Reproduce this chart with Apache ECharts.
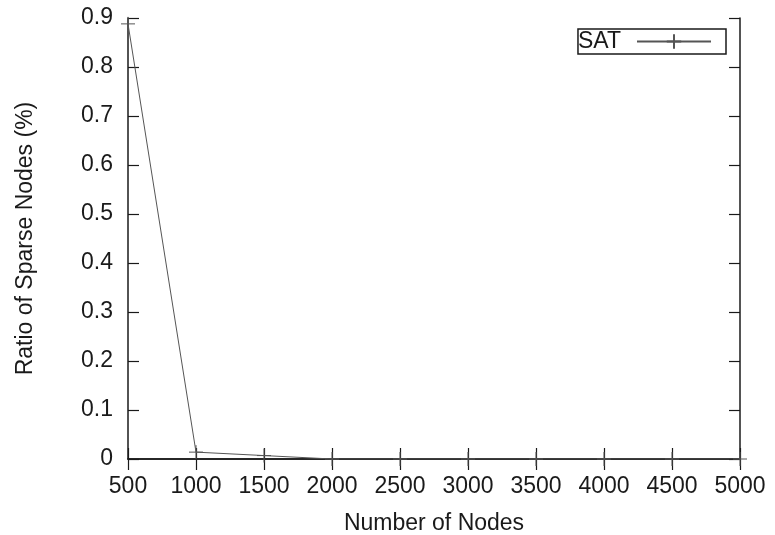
<!DOCTYPE html>
<html>
<head>
<meta charset="utf-8">
<script src="https://cdn.jsdelivr.net/npm/echarts@6/dist/echarts.min.js"></script>
<style>
  html, body { margin: 0; padding: 0; background: #fff; }
  #chart { width: 775px; height: 535px; }
</style>
</head>
<body>
<div id="chart"></div>
<script>
// values
var nodes = [500, 1000, 1500, 2000, 2500, 3000, 3500, 4000, 4500, 5000];
var satRatio = [0.888, 0.014, 0.007, 0, 0, 0, 0, 0, 0, 0];
var seriesName = "SAT";

var plus = "path://M0,5L10,5M5,0L5,10";
var font = "Liberation Sans";
var ink = "#1a1a1a";

var chart = echarts.init(document.getElementById("chart"));

var pts = nodes.map(function(n, i) {
  return [n, satRatio[i]];
});

chart.setOption({
  animation: false,
  backgroundColor: "#fff",
  textStyle: { fontFamily: font },
  grid: { left: 128, right: 35, top: 18, bottom: 76, outerBoundsMode: "none" },
  legend: {
    data: [seriesName],
    right: 49,
    top: 29,
    align: "right",
    itemWidth: 74,
    itemHeight: 18,
    itemGap: 0,
    padding: [1, 14, 1, 0],
    borderColor: ink,
    borderWidth: 1.5,
    borderRadius: 0,
    textStyle: { fontFamily: font, fontSize: 23, color: ink, padding: [0, 11, 0, 0] }
  },
  xAxis: [
    {
      type: "value",
      min: 500,
      max: 5000,
      interval: 500,
      name: "Number of Nodes",
      nameLocation: "middle",
      nameGap: 53,
      nameTextStyle: { fontSize: 23, color: ink },
      axisLine: { lineStyle: { color: ink, width: 1.5 } },
      axisTick: { inside: true, length: 11, lineStyle: { color: ink, width: 1.2 } },
      axisLabel: { fontSize: 23, color: ink, margin: 16, formatter: function(v) { return String(v); } },
      splitLine: { show: false }
    },
    {
      type: "value",
      position: "top",
      min: 500,
      max: 5000,
      interval: 500,
      axisLine: { lineStyle: { color: ink, width: 1.5 } },
      axisTick: { inside: true, length: 11, lineStyle: { color: ink, width: 1.2 } },
      axisLabel: { show: false },
      splitLine: { show: false }
    }
  ],
  yAxis: [
    {
      type: "value",
      min: 0,
      max: 0.9,
      interval: 0.1,
      name: "Ratio of Sparse Nodes (%)",
      nameLocation: "middle",
      nameGap: 91,
      nameTextStyle: { fontSize: 23, color: ink },
      axisLine: { show: true, lineStyle: { color: ink, width: 1.5 } },
      axisTick: { show: true, inside: true, length: 11, lineStyle: { color: ink, width: 1.2 } },
      axisLabel: {
        fontSize: 23,
        color: ink,
        margin: 15,
        formatter: function(v) { return v === 0 ? "0" : v.toFixed(1); }
      },
      splitLine: { show: false }
    },
    {
      type: "value",
      position: "right",
      min: 0,
      max: 0.9,
      interval: 0.1,
      axisLine: { show: true, lineStyle: { color: ink, width: 1.5 } },
      axisTick: { show: true, inside: true, length: 11, lineStyle: { color: ink, width: 1.2 } },
      axisLabel: { show: false },
      splitLine: { show: false }
    }
  ],
  series: [
    {
      name: seriesName,
      type: "line",
      data: pts,
      symbol: plus,
      symbolSize: 14,
      showAllSymbol: true,
      lineStyle: { color: "#555", width: 1 },
      itemStyle: { color: "rgba(0,0,0,0)", borderColor: "#555", borderWidth: 1 }
    }
  ]
});
</script>
</body>
</html>
